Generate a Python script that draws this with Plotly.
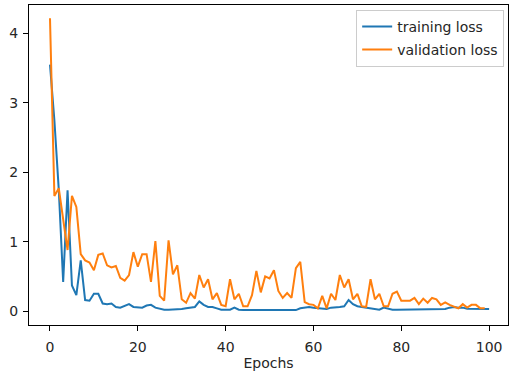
import plotly.graph_objects as go

epochs_train = list(range(101))
training_loss = [
    3.55, 2.75, 1.75, 0.42, 1.74, 0.37, 0.23, 0.73, 0.16, 0.15,
    0.25, 0.25, 0.11, 0.10, 0.11, 0.06, 0.05, 0.07, 0.10, 0.06,
    0.06, 0.05, 0.08, 0.09, 0.05, 0.03, 0.02, 0.02, 0.02, 0.02,
    0.03, 0.04, 0.05, 0.06, 0.14, 0.09, 0.06, 0.06, 0.04, 0.02,
    0.02, 0.02, 0.05, 0.02, 0.015, 0.015, 0.015, 0.015, 0.015, 0.015,
    0.015, 0.015, 0.015, 0.015, 0.015, 0.015, 0.015, 0.04, 0.05, 0.06,
    0.05, 0.04, 0.04, 0.03, 0.05, 0.05, 0.06, 0.07, 0.16, 0.10,
    0.07, 0.06, 0.05, 0.03, 0.02, 0.02, 0.05, 0.03, 0.02, 0.02,
    0.02, 0.02, 0.02, 0.02, 0.02, 0.02, 0.02, 0.02, 0.02, 0.02,
    0.03, 0.05, 0.06, 0.05, 0.05, 0.035, 0.035, 0.035, 0.03, 0.03,
    0.03,
]

epochs_val = list(range(100))
validation_loss = [
    4.22, 1.66, 1.77, 1.30, 0.88, 1.66, 1.50, 0.82, 0.73, 0.70,
    0.59, 0.81, 0.83, 0.66, 0.63, 0.65, 0.48, 0.44, 0.52, 0.85,
    0.64, 0.82, 0.82, 0.42, 1.01, 0.22, 0.15, 1.02, 0.53, 0.66,
    0.17, 0.12, 0.26, 0.18, 0.52, 0.34, 0.46, 0.17, 0.26, 0.09,
    0.07, 0.46, 0.17, 0.25, 0.07, 0.07, 0.23, 0.58, 0.27, 0.50,
    0.47, 0.59, 0.29, 0.19, 0.26, 0.19, 0.62, 0.71, 0.13, 0.10,
    0.09, 0.04, 0.22, 0.04, 0.25, 0.16, 0.52, 0.34, 0.46, 0.17,
    0.25, 0.07, 0.06, 0.46, 0.17, 0.25, 0.07, 0.07, 0.25, 0.28,
    0.15, 0.15, 0.15, 0.19, 0.10, 0.18, 0.12, 0.19, 0.17, 0.09,
    0.125, 0.09, 0.07, 0.04, 0.10, 0.05, 0.09, 0.09, 0.04, 0.04,
]

x_ticks = [0, 20, 40, 60, 80, 100]
y_ticks = [0, 1, 2, 3, 4]

FONT = dict(family="DejaVu Sans", size=14, color="#262626")

fig = go.Figure()
fig.add_trace(go.Scatter(x=epochs_train, y=training_loss, mode="lines",
                         name="training loss", legendgroup="a",
                         line=dict(color="#1f77b4", width=2)))
fig.add_trace(go.Scatter(x=epochs_val, y=validation_loss, mode="lines",
                         name="validation loss", legendgroup="b",
                         line=dict(color="#ff7f0e", width=2)))

axis_common = dict(showgrid=False, zeroline=False, showline=True, mirror=True,
                   automargin=False,
                   linecolor="#000000", linewidth=1, ticks="outside", ticklen=5,
                   tickcolor="#000000", tickfont=FONT)

fig.update_layout(
    width=509, height=375,
    margin=dict(l=29, r=1, t=5, b=50, autoexpand=False),
    paper_bgcolor="white", plot_bgcolor="white",
    font=FONT,
    xaxis=dict(range=[-4.78, 104.3], tickvals=x_ticks, ticklabelstandoff=4,
               title=dict(text="Epochs", standoff=4, font=FONT),
               **axis_common),
    yaxis=dict(range=[-0.20, 4.41], tickvals=y_ticks, ticklabelstandoff=2,
               **axis_common),
    legend=dict(x=0.992, y=0.985, xanchor="right", yanchor="top",
                bgcolor="rgba(255,255,255,0.8)", bordercolor="#cccccc", borderwidth=1,
                font=FONT, itemwidth=30, traceorder="grouped", tracegroupgap=2),
    showlegend=True,
)

fig.write_html("out.html",
               config={"displayModeBar": False},
               post_script="document.body.style.margin='0';document.body.style.overflow='hidden';")
